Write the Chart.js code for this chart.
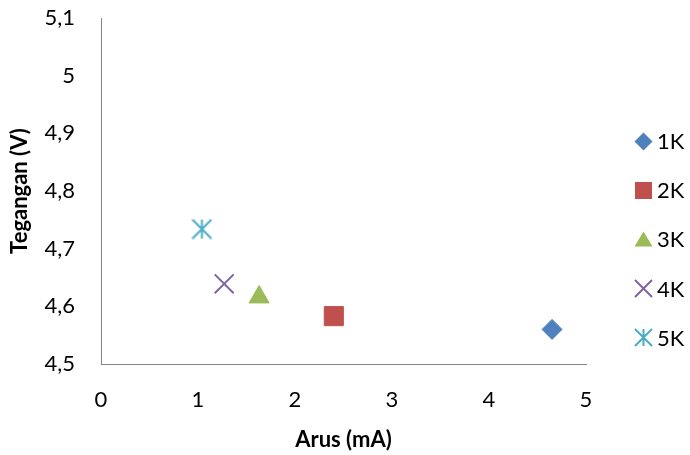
<!DOCTYPE html>
<html>
<head>
<meta charset="utf-8">
<script src="https://cdn.jsdelivr.net/npm/chart.js@4/dist/chart.umd.min.js"></script>
<style>
  html, body { margin: 0; padding: 0; background: #ffffff; }
  #wrap { position: relative; width: 690px; height: 455px; }
  #c { position: absolute; left: 0; top: 0; }
  #legend { position: absolute; left: 634px; top: 0; font-family: Lato, "Liberation Sans", sans-serif; font-size: 22px; color: #000; }
  .item { position: absolute; left: 0; height: 26px; display: flex; align-items: center; white-space: nowrap; }
  .item canvas { width: 19px; height: 19px; }
  .item span { margin-left: 4px; line-height: 26px; }
</style>
</head>
<body>
<div id="wrap">
  <canvas id="c" width="690" height="455"></canvas>
  <div id="legend"></div>
</div>
<script>
// ---- data ----
const seriesNames = ['1K', '2K', '3K', '4K', '5K'];
const arusValues = [4.65, 2.40, 1.63, 1.27, 1.04];        // Arus (mA)
const teganganValues = [4.560, 4.583, 4.616, 4.639, 4.734]; // Tegangan (V)
const xTickValues = [0, 1, 2, 3, 4, 5];
const yTickValues = [4.5, 4.6, 4.7, 4.8, 4.9, 5.0, 5.1];
const xTitle = 'Arus (mA)';
const yTitle = 'Tegangan (V)';

// ---- styles ----
const colors = ['#4F81BD', '#C0504D', '#9BBB59', '#8064A2', '#4BACC6'];
const FONT = 'Lato, "Liberation Sans", sans-serif';

function makeAsterisk(color, size, lw) {
  const cv = document.createElement('canvas');
  cv.width = size; cv.height = size;
  const g = cv.getContext('2d');
  const c = size / 2, h = size / 2 - 1;
  g.strokeStyle = color; g.lineWidth = lw; g.lineCap = 'butt';
  g.beginPath();
  g.moveTo(c - h, c - h); g.lineTo(c + h, c + h);
  g.moveTo(c + h, c - h); g.lineTo(c - h, c + h);
  g.moveTo(c, c - h); g.lineTo(c, c + h);
  g.stroke();
  return cv;
}
const asteriskMark = makeAsterisk(colors[4], 21, 2);

const pointStyles = ['rectRot', 'rect', 'triangle', 'crossRot', asteriskMark];
const pointRadii = [10, 13.5, 11.6, 13.4, 10];
const borderWidths = [1, 1, 1, 2, 2];

const datasets = seriesNames.map((name, i) => ({
  label: name,
  data: [{ x: arusValues[i], y: teganganValues[i] }],
  pointStyle: pointStyles[i],
  pointRadius: pointRadii[i],
  pointHoverRadius: pointRadii[i],
  backgroundColor: colors[i],
  borderColor: colors[i],
  borderWidth: borderWidths[i],
  showLine: false
}));

function fmt(v) {
  return String(Math.round(v * 10) / 10).replace('.', ',');
}

function build() {
  new Chart(document.getElementById('c'), {
    type: 'scatter',
    data: { datasets },
    options: {
      responsive: false,
      animation: false,
      devicePixelRatio: 1,
      layout: { padding: { top: 18, right: 104, bottom: 0, left: 0 } },
      plugins: { legend: { display: false }, tooltip: { enabled: false } },
      scales: {
        x: {
          type: 'linear',
          min: 0, max: 5,
          afterBuildTicks: (s) => { s.ticks = xTickValues.map(v => ({ value: v })); },
          afterFit: (s) => { s.height = 91; s.paddingLeft = 0; s.paddingRight = 0; s.paddingTop = 0; s.paddingBottom = 0; },
          grid: { display: false, drawTicks: false },
          border: { display: true, color: '#868686', width: 1 },
          ticks: { color: '#000', font: { family: FONT, size: 22 }, padding: 23, callback: (v) => fmt(v), maxRotation: 0 },
          title: { display: true, text: xTitle, color: '#000', font: { family: FONT, size: 22, weight: 'bold' }, padding: { top: 0, bottom: 2 } }
        },
        y: {
          type: 'linear',
          min: 4.5, max: 5.1,
          afterBuildTicks: (s) => { s.ticks = yTickValues.map(v => ({ value: v })); },
          afterFit: (s) => { s.width = 101; s.paddingTop = 0; s.paddingBottom = 0; s.paddingLeft = 0; s.paddingRight = 0; },
          grid: { display: false, drawTicks: false },
          border: { display: true, color: '#868686', width: 1 },
          ticks: { color: '#000', font: { family: FONT, size: 22 }, padding: 26, callback: (v) => fmt(v) },
          title: { display: true, text: yTitle, color: '#000', font: { family: FONT, size: 22, weight: 'bold' }, padding: { top: 7, bottom: 0 } }
        }
      }
    }
  });
  buildLegend();
}

function drawLegendMarker(g, i, s) {
  const c = s / 2;
  g.fillStyle = colors[i]; g.strokeStyle = colors[i];
  g.beginPath();
  if (i === 0) { const r = 9; g.moveTo(c, c - r); g.lineTo(c + r, c); g.lineTo(c, c + r); g.lineTo(c - r, c); g.closePath(); g.fill(); }
  else if (i === 1) { g.fillRect(c - 8.5, c - 8.5, 17, 17); }
  else if (i === 2) { g.moveTo(c, c - 8); g.lineTo(c + 9, c + 7); g.lineTo(c - 9, c + 7); g.closePath(); g.fill(); }
  else if (i === 3) { const h = 8.5; g.lineWidth = 2; g.moveTo(c - h, c - h); g.lineTo(c + h, c + h); g.moveTo(c + h, c - h); g.lineTo(c - h, c + h); g.stroke(); }
  else { const h = 8.5; g.lineWidth = 2; g.moveTo(c - h, c - h); g.lineTo(c + h, c + h); g.moveTo(c + h, c - h); g.lineTo(c - h, c + h); g.moveTo(c, c - h); g.lineTo(c, c + h); g.stroke(); }
}

function buildLegend() {
  const lg = document.getElementById('legend');
  seriesNames.forEach((name, i) => {
    const row = document.createElement('div');
    row.className = 'item';
    row.style.top = (141 + i * 49.2 - 13) + 'px';
    const cv = document.createElement('canvas');
    cv.width = 19; cv.height = 19;
    drawLegendMarker(cv.getContext('2d'), i, 19);
    const sp = document.createElement('span');
    sp.textContent = name;
    row.appendChild(cv); row.appendChild(sp);
    lg.appendChild(row);
  });
}

if (document.fonts && document.fonts.load) {
  Promise.all([document.fonts.load('22px Lato'), document.fonts.load('bold 22px Lato')]).then(build, build);
} else { build(); }
</script>
</body>
</html>
